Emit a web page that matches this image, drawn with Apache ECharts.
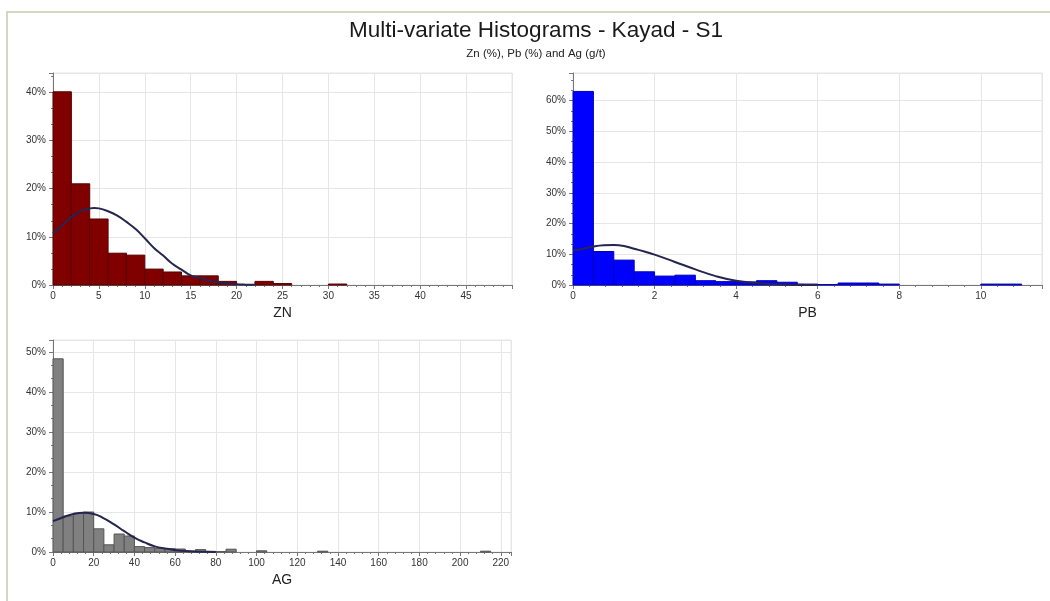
<!DOCTYPE html>
<html><head><meta charset="utf-8">
<script src="https://cdn.jsdelivr.net/npm/echarts@6/dist/echarts.min.js"></script>
<style>html,body{margin:0;padding:0;background:#fff}#c{width:1050px;height:601px}</style>
</head><body><div id="c"></div>
<script>
// ---- data ----
const titleText = 'Multi-variate Histograms - Kayad - S1';
const subText = 'Zn (%), Pb (%) and Ag (g/t)';

const znName = 'ZN';
const znBinWidth = 2;
const znPct = [40.1, 21.0, 13.7, 6.6, 6.2, 3.3, 2.7, 1.9, 1.9, 0.75, 0, 0.75, 0.3, 0, 0, 0.2];
const znCurveX = [0, 1, 2, 3, 4, 4.5, 5, 6, 7, 8, 9, 10, 11, 12, 13, 14, 15, 16, 17, 18, 19, 20, 21, 22];
const znCurveY = [10.7, 12.4, 14.1, 15.3, 15.9, 16.0, 15.9, 15.3, 14.4, 13.1, 11.6, 9.7, 7.7, 6.1, 4.4, 3.2, 2.0, 1.5, 0.9, 0.55, 0.3, 0.15, 0.07, 0.03];
const znXTicks = {max: 50, interval: 5};
const znYTicks = {max: 44, interval: 10};

const pbName = 'PB';
const pbBinWidth = 0.5;
const pbPct = [63.0, 10.9, 8.1, 4.3, 2.9, 3.2, 1.4, 1.1, 1.0, 1.4, 0.9, 0.3, 0.15, 0.65, 0.65, 0.3, 0, 0, 0, 0, 0.3, 0.3];
const pbCurveX = [0, 0.25, 0.5, 0.75, 1, 1.25, 1.5, 1.75, 2, 2.5, 3, 3.5, 4, 4.5, 5, 5.5, 6];
const pbCurveY = [11.2, 11.8, 12.5, 12.9, 13.0, 12.7, 11.8, 10.9, 9.9, 7.5, 5.1, 2.9, 1.4, 0.65, 0.25, 0.08, 0.02];
const pbXTicks = {max: 11.5, interval: 2};
const pbYTicks = {max: 69, interval: 10};

const agName = 'AG';
const agBinWidth = 5;
const agPct = [48.3, 9.0, 9.7, 10.0, 5.8, 1.8, 4.5, 4.0, 1.35, 1.1, 0.9, 0.85, 0.75, 0.25, 0.6, 0.15, 0.1, 0.7, 0, 0,
               0.3, 0, 0, 0, 0, 0, 0.2, 0, 0, 0, 0, 0, 0, 0, 0, 0, 0, 0, 0, 0, 0, 0, 0.2];
const agCurveX = [0, 5, 10, 15, 20, 25, 30, 35, 40, 45, 50, 55, 60, 65, 70, 75, 80];
const agCurveY = [7.7, 8.7, 9.5, 9.8, 9.5, 8.4, 6.9, 5.2, 3.6, 2.4, 1.4, 0.85, 0.5, 0.25, 0.12, 0.05, 0.02];
const agXTicks = {max: 225, interval: 20};
const agYTicks = {max: 53, interval: 10};

// ---- helpers ----
const FONT = 'Liberation Sans, Arial, sans-serif';
const AXIS_C = '#777777';
const GRID_C = '#e6e6e6';
const CURVE_C = '#25254f';

function bins(width, pct) {
  const out = [];
  pct.forEach((v, i) => { if (v > 0) out.push([i * width, (i + 1) * width, v]); });
  return out;
}
function pairs(xs, ys) { return xs.map((x, i) => [x, ys[i]]); }

function histRender(fill, stroke) {
  return function (params, api) {
    const p0 = api.coord([api.value(0), api.value(2)]);
    const p1 = api.coord([api.value(1), 0]);
    return {
      type: 'rect',
      shape: {x: p0[0], y: p0[1], width: p1[0] - p0[0], height: p1[1] - p0[1]},
      style: {fill: fill, stroke: stroke, lineWidth: 1}
    };
  };
}

function xAxis(gi, t, name) {
  return {
    type: 'value', gridIndex: gi, min: 0, max: t.max, interval: t.interval,
    name: name, nameLocation: 'middle', nameGap: 21,
    nameTextStyle: {fontSize: 14, color: '#222', fontFamily: FONT},
    axisLine: {show: true, onZero: false, lineStyle: {color: AXIS_C, width: 1}},
    axisTick: {show: true, length: 4, lineStyle: {color: AXIS_C}},
    minorTick: {show: true, splitNumber: 5, length: 2, lineStyle: {color: AXIS_C}},
    axisLabel: {fontSize: 10, color: '#333', fontFamily: FONT, margin: 6, showMaxLabel: false,
      formatter: v => (Math.abs(v / t.interval - Math.round(v / t.interval)) < 1e-9 ? String(v) : '')},
    splitLine: {show: true, lineStyle: {color: GRID_C}}
  };
}
function yAxis(gi, t) {
  return {
    type: 'value', gridIndex: gi, min: 0, max: t.max, interval: t.interval,
    axisLine: {show: true, lineStyle: {color: AXIS_C, width: 1}},
    axisTick: {show: true, length: 4, lineStyle: {color: AXIS_C}},
    minorTick: {show: true, splitNumber: 3, length: 2, lineStyle: {color: AXIS_C}},
    axisLabel: {fontSize: 10, color: '#333', fontFamily: FONT, margin: 7, showMaxLabel: false,
      formatter: v => (v % t.interval === 0 ? v + '%' : '')},
    splitLine: {show: true, lineStyle: {color: GRID_C}}
  };
}
function hist(gi, width, pct, fill, stroke) {
  return {type: 'custom', xAxisIndex: gi, yAxisIndex: gi, renderItem: histRender(fill, stroke),
    encode: {x: [0, 1], y: 2}, data: bins(width, pct), z: 2, silent: true};
}
function curve(gi, xs, ys) {
  return {type: 'line', xAxisIndex: gi, yAxisIndex: gi, data: pairs(xs, ys), smooth: true,
    showSymbol: false, symbol: 'none', lineStyle: {color: CURVE_C, width: 2}, z: 5, silent: true};
}

const chart = echarts.init(document.getElementById('c'), null, {renderer: 'canvas'});
chart.setOption({
  backgroundColor: '#fff',
  animation: false,
  title: {
    text: titleText, subtext: subText, left: 531, textAlign: 'center', top: 14, itemGap: 6,
    textStyle: {fontSize: 22.5, fontWeight: 'normal', color: '#1a1a1a', fontFamily: FONT},
    subtextStyle: {fontSize: 11.5, color: '#222', fontFamily: FONT}
  },
  graphic: [{
    type: 'polyline', silent: true,
    shape: {points: [[7, 601], [7, 12], [1050, 12]]},
    style: {stroke: '#d6d6c4', lineWidth: 2, fill: null}
  }],
  grid: [
    {left: 53, top: 73, width: 459, height: 212, show: true, borderColor: GRID_C, borderWidth: 1},
    {left: 573, top: 73, width: 469, height: 212, show: true, borderColor: GRID_C, borderWidth: 1},
    {left: 53, top: 340, width: 458, height: 212, show: true, borderColor: GRID_C, borderWidth: 1}
  ],
  xAxis: [xAxis(0, znXTicks, znName), xAxis(1, pbXTicks, pbName), xAxis(2, agXTicks, agName)],
  yAxis: [yAxis(0, znYTicks), yAxis(1, pbYTicks), yAxis(2, agYTicks)],
  series: [
    hist(0, znBinWidth, znPct, '#800000', '#560000'),
    curve(0, znCurveX, znCurveY),
    hist(1, pbBinWidth, pbPct, '#0000ff', '#0000b8'),
    curve(1, pbCurveX, pbCurveY),
    hist(2, agBinWidth, agPct, '#808080', '#555555'),
    curve(2, agCurveX, agCurveY)
  ]
});
</script></body></html>
